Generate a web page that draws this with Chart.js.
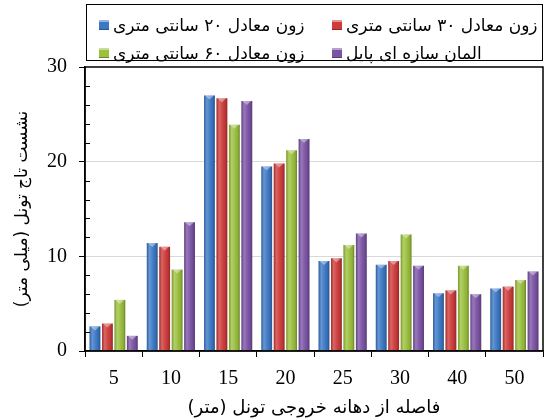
<!DOCTYPE html>
<html>
<head>
<meta charset="utf-8">
<script src="https://cdn.jsdelivr.net/npm/chart.js@4/dist/chart.umd.min.js"></script>
<style>
  body { margin: 0; background: #fff; }
  #wrap { position: relative; width: 545px; height: 419px; }
  #legend {
    position: absolute; left: 86px; top: 4px; width: 457px; height: 57px;
    border: 1.5px solid #000; box-sizing: border-box; background: #fff;
    font-family: 'DejaVu Sans', sans-serif; font-size: 17px; color: #000;
  }
  .item { position: absolute; display: flex; align-items: center; height: 24px; }
  .box { width: 10px; height: 10px; margin-right: 4px; flex: none; }
  .txt { direction: rtl; white-space: nowrap; }
</style>
</head>
<body>
<div id="wrap">
  <canvas id="settlement" width="545" height="419"></canvas>
  <div id="legend"></div>
</div>
<script>
const categories = ['5', '10', '15', '20', '25', '30', '40', '50'];
const seriesNames = ['زون معادل ۲۰ سانتی متری', 'زون معادل ۳۰ سانتی متری', 'زون معادل ۶۰ سانتی متری', 'المان سازه ای پایل'];
const zone20 = [2.6, 11.4, 27.0, 19.5, 9.5, 9.1, 6.1, 6.6];
const zone30 = [2.9, 11.0, 26.7, 19.8, 9.8, 9.5, 6.4, 6.8];
const zone60 = [5.4, 8.6, 23.9, 21.2, 11.2, 12.3, 9.0, 7.5];
const pile = [1.6, 13.6, 26.4, 22.4, 12.4, 9.0, 6.0, 8.4];
const colors = ['#3b78c6', '#cf3a3a', '#9cc13d', '#7b53a6'];
const yTitle = 'نشست تاج تونل (میلی متر)';
const xTitle = 'فاصله از دهانه خروجی تونل (متر)';

// legend: html, two columns, box on the left of rtl text
const legendPos = [[12, 8], [245, 8], [12, 36], [245, 36]];
const legend = document.getElementById('legend');
seriesNames.forEach((name, i) => {
    const it = document.createElement('div');
    it.className = 'item';
    it.style.left = legendPos[i][0] + 'px';
    it.style.top = legendPos[i][1] + 'px';
    it.innerHTML = '<span class="box" style="background:' + colors[i] + ';box-shadow: inset 0 2px 0 rgba(255,255,255,0.45), inset 0 -1px 0 rgba(0,0,0,0.3)"></span><span class="txt"></span>';
    it.querySelector('.txt').textContent = name;
    legend.appendChild(it);
});

// glossy look on top of each bar, using the bar elements' own geometry
const glossPlugin = {
    id: 'gloss',
    afterDatasetsDraw(chart) {
        const ctx = chart.ctx;
        chart.data.datasets.forEach((ds, di) => {
            chart.getDatasetMeta(di).data.forEach(bar => {
                const l = bar.x - bar.width / 2, r = bar.x + bar.width / 2;
                const g = ctx.createLinearGradient(l, 0, r, 0);
                g.addColorStop(0, 'rgba(0,0,0,0.2)');
                g.addColorStop(0.25, 'rgba(255,255,255,0.22)');
                g.addColorStop(0.45, 'rgba(255,255,255,0.1)');
                g.addColorStop(0.8, 'rgba(0,0,0,0.08)');
                g.addColorStop(1, 'rgba(0,0,0,0.3)');
                ctx.save();
                ctx.fillStyle = g;
                ctx.fillRect(l, bar.y, bar.width, bar.base - bar.y);
                ctx.fillStyle = 'rgba(255,255,255,0.4)';
                ctx.beginPath();
                ctx.moveTo(l + 1, bar.y);
                ctx.lineTo(r - 1, bar.y);
                ctx.lineTo(bar.x, bar.y + 4);
                ctx.closePath();
                ctx.fill();
                ctx.restore();
            });
        });
    }
};

// frame around plot area and small inner minor ticks on the y axis
const framePlugin = {
    id: 'frame',
    afterDraw(chart) {
        const { ctx, chartArea: a, scales } = chart;
        ctx.save();
        ctx.strokeStyle = '#000';
        ctx.lineWidth = 1.5;
        ctx.strokeRect(a.left, a.top, a.right - a.left, a.bottom - a.top);
        ctx.lineWidth = 1;
        scales.y.ticks.forEach(t => {
            if (t.value % 10 === 0) return;
            const py = Math.round(scales.y.getPixelForValue(t.value)) + 0.5;
            ctx.beginPath();
            ctx.moveTo(a.left, py);
            ctx.lineTo(a.left + 5, py);
            ctx.stroke();
        });
        ctx.restore();
    }
};

const datasets = [zone20, zone30, zone60, pile].map((vals, i) => ({
    label: seriesNames[i],
    data: vals,
    backgroundColor: colors[i],
    borderWidth: 0,
    barPercentage: 0.87,
    categoryPercentage: 0.87
}));

new Chart(document.getElementById('settlement'), {
    type: 'bar',
    data: { labels: categories, datasets: datasets },
    plugins: [glossPlugin, framePlugin],
    options: {
        responsive: false,
        animation: false,
        layout: { padding: { top: 67, right: 2, left: 0, bottom: 0 } },
        plugins: { legend: { display: false }, tooltip: { enabled: false } },
        scales: {
            x: {
                grid: { drawOnChartArea: false, tickColor: '#000', tickLength: 6, offset: true },
                border: { color: '#000', width: 1.5 },
                ticks: { color: '#000', font: { family: 'Liberation Serif', size: 20 }, padding: 10 },
                title: { display: true, text: xTitle, color: '#000', font: { family: 'DejaVu Sans', size: 18 }, padding: { top: 0, bottom: 0 } },
                afterFit(scale) { scale.height = 68; }
            },
            y: {
                min: 0, max: 30,
                grid: {
                    color: c => (c.tick.value === 10 || c.tick.value === 20) ? '#d9d9d9' : 'rgba(0,0,0,0)',
                    tickColor: c => c.tick.value % 10 === 0 ? '#000' : 'rgba(0,0,0,0)',
                    tickLength: 6
                },
                border: { color: '#000', width: 1.5 },
                ticks: {
                    stepSize: 2,
                    autoSkip: false,
                    color: '#000',
                    font: { family: 'Liberation Serif', size: 20 },
                    padding: 12,
                    callback: v => v % 10 === 0 ? v : ''
                },
                title: { display: true, text: yTitle, color: '#000', font: { family: 'DejaVu Sans', size: 17 }, padding: { top: 12, bottom: 0 } },
                afterFit(scale) { scale.width = 85; }
            }
        }
    }
});
</script>
</body>
</html>
